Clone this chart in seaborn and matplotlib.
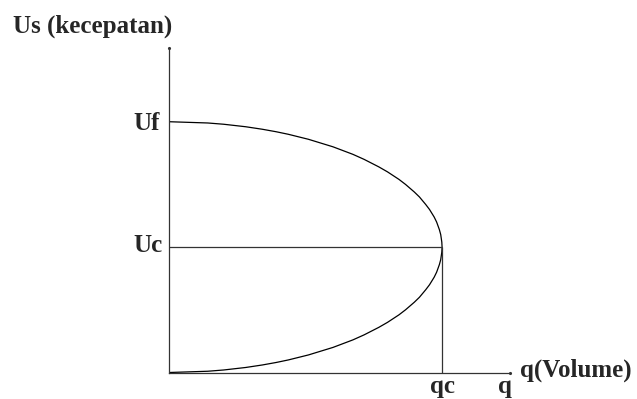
import numpy as np
import pandas as pd
import seaborn as sns
import matplotlib.pyplot as plt

# Speed (Us) vs volume (q) curve
# U in % of free-flow speed Uf, q in % of capacity qc
u_curve = [100, 99.5, 99, 98, 97, 96, 95, 93, 90, 87, 85, 82, 80, 77, 75, 72, 70, 67, 65, 62, 60, 57, 55, 52,
           50,
           48, 45, 43, 40, 38, 35, 33, 30, 28, 25, 23, 20, 18, 15, 13, 10, 7, 5, 4, 3, 2, 1, 0.5, 0]
q_curve = [0, 14.1, 19.9, 28.0, 34.1, 39.2, 43.6, 51.0, 60.0, 67.3, 71.4, 76.8, 80.0, 84.2, 86.6, 89.8, 91.7,
           94.0, 95.4, 97.1, 98.0, 99.0, 99.5, 99.9,
           100,
           99.9, 99.5, 99.0, 98.0, 97.1, 95.4, 94.0, 91.7, 89.8, 86.6, 84.2, 80.0, 76.8, 71.4, 67.3, 60.0, 51.0,
           43.6, 39.2, 34.1, 28.0, 19.9, 14.1, 0]

Uf = 100
Uc = 50
qc = 100

y_title = "Us (kecepatan)"
x_title = "q(Volume)"

df = pd.DataFrame({"q": q_curve, "U": u_curve})

sns.set_style("white")
plt.rcParams["font.family"] = ["Liberation Serif", "DejaVu Serif"]
plt.rcParams["font.weight"] = "bold"

W, H = 637, 399
fig = plt.figure(figsize=(W / 100, H / 100), dpi=100)
ax = fig.add_axes([169.3 / W, (H - 372.5) / H, (510 - 169.3) / W, (372.5 - 48) / H])

sns.lineplot(data=df, x="q", y="U", sort=False, estimator=None, color="black", lw=0.9, ax=ax)
ax.hlines(Uc, 0, qc, color="#333333", lw=0.9)
ax.vlines(qc, 0, Uc, color="#333333", lw=0.9)

ax.set_xlim(0, 124.9)
ax.set_ylim(0, 129.4)
ax.set_xticks([])
ax.set_yticks([])
ax.set_xlabel("")
ax.set_ylabel("")
for s in ["top", "right"]:
    ax.spines[s].set_visible(False)
for s in ["left", "bottom"]:
    ax.spines[s].set_color("#333333")
    ax.spines[s].set_linewidth(0.9)

# little dots at axis ends
ax.plot([1], [0], marker=".", ms=2.5, color="#333333", transform=ax.transAxes, clip_on=False)
ax.plot([0], [1], marker=".", ms=2.5, color="#333333", transform=ax.transAxes, clip_on=False)

fs = 18
def px(x, y):
    return x / W, 1 - y / H

fig.text(*px(13, 33), y_title, fontsize=fs, fontweight="bold", va="baseline", ha="left")
fig.text(*px(133, 130), "Uf", fontsize=fs, fontweight="bold", va="baseline", ha="left")
fig.text(*px(133, 252), "Uc", fontsize=fs, fontweight="bold", va="baseline", ha="left")
fig.text(*px(442.5, 393), "qc", fontsize=fs, fontweight="bold", va="baseline", ha="center")
fig.text(*px(505, 393), "q", fontsize=fs, fontweight="bold", va="baseline", ha="center")
fig.text(*px(520, 377), x_title, fontsize=fs, fontweight="bold", va="baseline", ha="left")

fig.savefig("out.png", dpi=100)
